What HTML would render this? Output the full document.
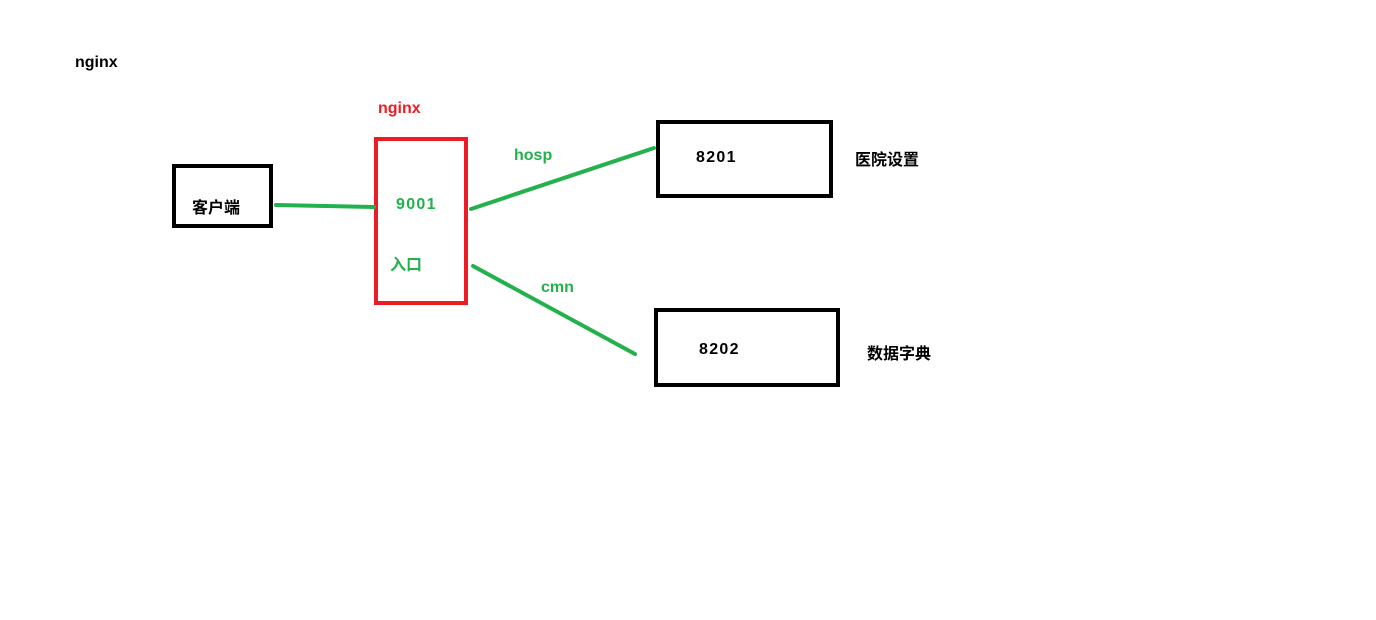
<!DOCTYPE html>
<html><head><meta charset="utf-8"><style>
html,body{margin:0;padding:0;background:#fff;width:1376px;height:620px;overflow:hidden}
svg{display:block}
text{font-family:"Liberation Sans","Noto Sans CJK SC",sans-serif;font-weight:bold;font-size:16px}
.num{letter-spacing:1.3px}
</style></head><body>
<svg width="1376" height="620" viewBox="0 0 1376 620">
<text x="75" y="67" fill="#000">nginx</text>
<rect x="174" y="166" width="97" height="60" fill="none" stroke="#000" stroke-width="4"/>
<text x="192" y="213" fill="#000">客户端</text>
<text x="378" y="113" fill="#ed1c24">nginx</text>
<rect x="376" y="139" width="90" height="164" fill="none" stroke="#ed1c24" stroke-width="4"/>
<text class="num" x="396" y="209" fill="#22b14c">9001</text>
<text x="390" y="270" fill="#22b14c">入口</text>
<rect x="658" y="122" width="173" height="74" fill="none" stroke="#000" stroke-width="4"/>
<text class="num" x="696" y="162" fill="#000">8201</text>
<text x="855" y="165" fill="#000">医院设置</text>
<rect x="656" y="310" width="182" height="75" fill="none" stroke="#000" stroke-width="4"/>
<text class="num" x="699" y="354" fill="#000">8202</text>
<text x="867" y="359" fill="#000">数据字典</text>
<g stroke="#22b14c" stroke-width="4" stroke-linecap="round" fill="none">
<line x1="276" y1="205" x2="374" y2="207"/>
<line x1="471" y1="209" x2="654" y2="148"/>
<line x1="473" y1="266" x2="635" y2="354"/>
</g>
<text x="514" y="160" fill="#22b14c">hosp</text>
<text x="541" y="292" fill="#22b14c">cmn</text>
</svg>
</body></html>
